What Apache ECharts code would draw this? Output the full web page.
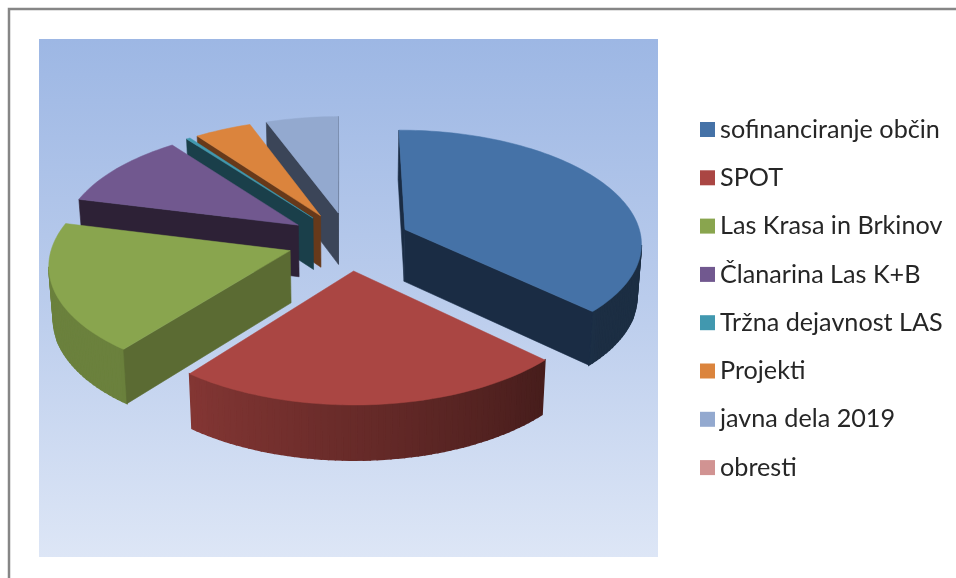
<!DOCTYPE html>
<html>
<head>
<meta charset="utf-8">
<style>
  html, body { margin: 0; padding: 0; background: #fff; }
  #main { width: 956px; height: 578px; }
</style>
<script src="https://cdn.jsdelivr.net/npm/echarts@6/dist/echarts.min.js"></script>
</head>
<body>
<div id="main"></div>
<script>
//--------------------- Data ---------------------------//
const categories = ['sofinanciranje občin', 'SPOT', 'Las Krasa in Brkinov', 'Članarina Las K+B',
  'Tržna dejavnost LAS', 'Projekti', 'javna dela 2019', 'obresti'];
const shares = [37.3, 23.5, 18.4, 10.8, 0.3, 4.4, 5.6, 0.01];

//--------------------- Styles ---------------------------//
const topColors = ['#4572A7', '#AA4643', '#89A54E', '#71588F', '#4198AF', '#DB843D', '#93A9CF', '#D19392'];
const wallColors = ['#1A2C44', '#4A1C1A', '#5B6B33', '#2D2136', '#1A3F4A', '#67391A', '#3B4558', '#5E3A3A'];

// Perspective of the pie: centre, radii, how strong the foreshortening is
const cx = 349, cy = 241, rx = 237, ky = 112.5, persp = 0.108;
const explode = 0.26, depth = 52;
const firstSliceAngle = -0.2;

//--------------------- Functions ---------------------------//
function rad(deg) {
  return deg * Math.PI / 180;
}

// Ground plane point to screen, gy grows towards the viewer
function project(gx, gy, bottom) {
  const w = 1 - persp * gy;
  let sx = cx + rx * gx / w;
  let sy = cy + ky * gy / w;
  if (bottom) {
    sx = cx + (sx - cx) * 0.985;
    sy += depth * (1 + 0.05 * gy);
  }
  return [sx, sy];
}

function shade(hex, f) {
  const n = parseInt(hex.slice(1), 16);
  const r = Math.round((n >> 16 & 255) * f);
  const g = Math.round((n >> 8 & 255) * f);
  const b = Math.round((n & 255) * f);
  return `rgb(${r},${g},${b})`;
}

// Rim gets lighter when it turns to the left
function rimShade(deg) {
  const t = Math.max(0, Math.min(1, (deg - 130) / 90));
  return 0.4 + 0.38 * t;
}

function wallQuad(a, b, fill, width) {
  return {
    type: 'polygon',
    silent: true,
    shape: { points: [project(a[0], a[1]), project(b[0], b[1]), project(b[0], b[1], true), project(a[0], a[1], true)] },
    style: { fill: fill, stroke: fill, lineWidth: width }
  };
}

// One slice: the walls that face the viewer, then the top face
function renderSlice(params, api) {
  const index = params.seriesIndex;
  const start = api.value(1);
  const end = api.value(2);
  const mid = rad((start + end) / 2);
  const apex = [explode * Math.sin(mid), -explode * Math.cos(mid)];

  const rim = [];
  const steps = Math.max(2, Math.ceil((end - start) / 1.5));
  for (let i = 0; i <= steps; i++) {
    const a = start + (end - start) * i / steps;
    rim.push({ deg: a, p: [apex[0] + Math.sin(rad(a)), apex[1] - Math.cos(rad(a))] });
  }

  const children = [];
  const facing = (a, b) => project(b[0], b[1])[0] < project(a[0], a[1])[0];

  // rim strips first, a wider stroke closes the seams between them
  for (let i = 0; i < steps; i++) {
    if (facing(rim[i].p, rim[i + 1].p)) {
      const f = rimShade((rim[i].deg + rim[i + 1].deg) / 2);
      children.push(wallQuad(rim[i].p, rim[i + 1].p, shade(topColors[index], f), 1.4));
    }
  }
  if (facing(apex, rim[0].p)) {
    children.push(wallQuad(apex, rim[0].p, wallColors[index], 0.6));
  }
  if (facing(rim[steps].p, apex)) {
    children.push(wallQuad(rim[steps].p, apex, wallColors[index], 0.6));
  }

  const top = [project(apex[0], apex[1])].concat(rim.map(r => project(r.p[0], r.p[1])));
  children.push({
    type: 'polygon',
    silent: true,
    shape: { points: top },
    style: { fill: topColors[index], stroke: topColors[index], lineWidth: 0.5 }
  });
  return { type: 'group', children: children };
}

//--------------------- Main ---------------------------//
const total = shares.reduce((a, b) => a + b, 0);
let angle = firstSliceAngle;
const series = categories.map((name, i) => {
  const start = angle;
  angle += shares[i] / total * 360;
  const midCos = Math.cos(rad((start + angle) / 2));
  return {
    type: 'custom',
    name: name,
    coordinateSystem: 'none',
    // slices further back are painted first
    z: 5 - midCos,
    itemStyle: { color: topColors[i] },
    renderItem: renderSlice,
    data: shares[i] >= 0.05 ? [[shares[i], start, angle]] : []
  };
});

const chart = echarts.init(document.getElementById('main'), null, { renderer: 'canvas' });
chart.setOption({
  animation: false,
  graphic: [
    {
      type: 'rect',
      z: 0,
      silent: true,
      shape: { x: 9, y: 9, width: 960, height: 590 },
      style: { fill: '#fff', stroke: '#868686', lineWidth: 2.5 }
    },
    {
      type: 'rect',
      z: 1,
      silent: true,
      shape: { x: 39, y: 39, width: 619, height: 518 },
      style: {
        fill: new echarts.graphic.LinearGradient(0, 0, 0, 1, [
          { offset: 0, color: '#9DB7E4' },
          { offset: 0.5, color: '#BACCEC' },
          { offset: 1, color: '#DDE6F6' }
        ])
      }
    }
  ],
  legend: {
    orient: 'vertical',
    left: 700,
    top: 114.5,
    padding: 0,
    icon: 'rect',
    itemWidth: 15,
    itemHeight: 15,
    itemGap: 18.3,
    selectedMode: false,
    data: categories,
    textStyle: { fontFamily: 'Lato', fontSize: 25.2, color: '#262626', lineHeight: 30 }
  },
  series: series
});
</script>
</body>
</html>
